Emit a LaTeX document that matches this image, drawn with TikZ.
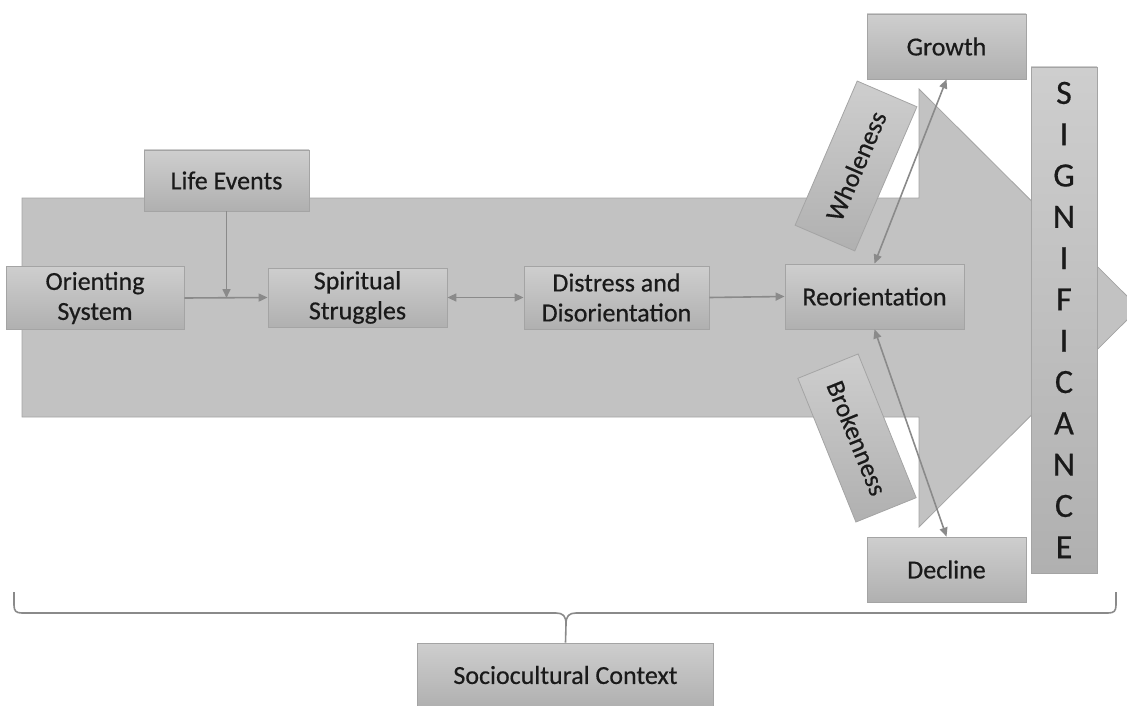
\documentclass[tikz,border=0pt]{standalone}
\usepackage{fontspec}
\setmainfont{Carlito}
\newfontfamily\boxfont[FakeBold=0.5]{Carlito}
\usetikzlibrary{arrows.meta,calc,positioning}
\definecolor{arrowgray}{HTML}{C2C2C2}
\definecolor{edgegray}{HTML}{A4A4A4}
\definecolor{linegray}{HTML}{8A8A8A}
\definecolor{boxtop}{HTML}{CECECE}
\definecolor{boxbot}{HTML}{B0B0B0}
\definecolor{textgray}{HTML}{1A1A1A}

\begin{document}
\begin{tikzpicture}[x=1pt,y=-1pt,>={Triangle[length=9pt,width=8pt]},
  box/.style={draw=edgegray,line width=0.8pt,top color=boxtop,bottom color=boxbot,
    text=textgray,inner sep=0pt,align=center,font=\boxfont\fontsize{26}{30}\selectfont},
  link/.style={linegray,line width=1.6pt}]
  \clip (0,0) rectangle (1127,706);
  % big background arrow
  \filldraw[fill=arrowgray,draw=edgegray,line width=0.8pt]
    (22,198) -- (919,198) -- (919,89) -- (1139,308) -- (919,527) -- (919,417) -- (22,417) -- cycle;
  % process boxes
  \node[box,minimum width=165pt,minimum height=61pt] (life) at (226.5,180.5) {Life Events};
  \node[box,minimum width=178pt,minimum height=63pt] (orient) at (95,298) {Orienting\\System};
  \node[box,minimum width=179pt,minimum height=59pt] (spirit) at (357.5,297.5) {Spiritual\\Struggles};
  \node[box,minimum width=185pt,minimum height=63pt] (distress) at (616.5,297.5) {Distress and\\Disorientation};
  \node[box,minimum width=179pt,minimum height=65pt] (reorient) at (874.5,296.5) {Reorientation};
  \node[box,minimum width=159pt,minimum height=65pt] (growth) at (946.5,46.5) {Growth};
  \node[box,minimum width=159pt,minimum height=65pt] (decline) at (946.5,569.5) {Decline};
  \node[box,minimum width=157pt,minimum height=65pt,rotate=66.7] (whole) at (856,166) {Wholeness};
  \node[box,minimum width=155pt,minimum height=65pt,rotate=-68] (broken) at (857,438) {Brokenness};
  \node[box,minimum width=66pt,minimum height=506pt,font=\boxfont\fontsize{34}{41.3}\selectfont] (signif) at (1064,320)
    {S\\I\\G\\N\\I\\F\\I\\C\\A\\N\\C\\E};
  \node[box,minimum width=296pt,minimum height=64pt] (socio) at (565.5,675) {Sociocultural Context};
  % connectors
  \coordinate (meet) at (life.south |- orient.east);
  \draw[link,->] (orient.east) -- (spirit.west);
  \draw[link,->] (life.south) -- (meet);
  \draw[link,<->] (spirit.east) -- (distress.west);
  \draw[link,->] (distress.east) -- (reorient.west);
  \draw[link,<->] (reorient.north) -- (growth.south);
  \draw[link,<->] (reorient.south) -- (decline.north);
  % brace over the sociocultural context
  \draw[link,line join=round]
    (14,592) -- (14,605) .. controls (14,611) and (16,613) .. (22,613) -- (556,613)
    .. controls (563,613) and (566,616) .. (566,624) -- (socio.north);
  \draw[link,line join=round]
    (1116,592) -- (1116,605) .. controls (1116,611) and (1114,613) .. (1108,613) -- (576,613)
    .. controls (569,613) and (566,616) .. (566,624);
\end{tikzpicture}
\end{document}
